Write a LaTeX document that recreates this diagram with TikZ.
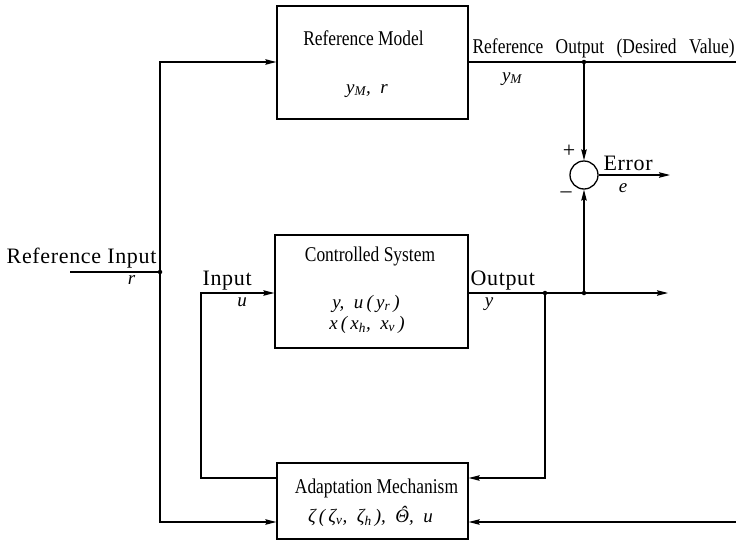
\documentclass[tikz,border=0pt]{standalone}
\usepackage{fontspec}
\setmainfont{Liberation Serif}
\newfontfamily\titlefont[FakeStretch=0.83]{Liberation Serif}
\newfontfamily\labelfont[LetterSpace=3]{Liberation Serif}
\newcommand\sbs[1]{\textsubscript{\itshape #1}}
\newcommand\thetahat{\ooalign{Θ\cr\hidewidth\kern2.5pt\raisebox{0.12em}{ˆ}\hidewidth\cr}}
\usetikzlibrary{arrows.meta}
\begin{document}
\begin{tikzpicture}[x=1pt,y=-1pt,line width=1.2pt,
  box/.style={draw,line width=1.3pt,inner sep=0pt},
  tip/.style={-{Stealth[length=11pt,width=5.5pt,inset=1.5pt]}},
  dot/.style={circle,fill,inner sep=0pt,minimum size=4.5pt},
  title/.style={font=\titlefont\fontsize{21}{25}\selectfont,anchor=base,inner sep=0pt},
  lab/.style={font=\labelfont\fontsize{22}{26}\selectfont,anchor=base,inner sep=0pt},
  mth/.style={font=\itshape\fontsize{19}{23}\selectfont,anchor=base,inner sep=0pt}]
\path[use as bounding box] (0,0) rectangle (736,541);
% blocks
\node[box,minimum width=191pt,minimum height=113pt] (rm) at (372.5,62.5) {};
\node[box,minimum width=193pt,minimum height=113pt] (cs) at (371.5,291.5) {};
\node[box,minimum width=191pt,minimum height=76pt] (am) at (372.5,501) {};
\node[draw,circle,minimum size=28pt,inner sep=0pt,line width=1.3pt] (sum) at (584,175) {};
% coordinates
\coordinate (ri) at (70,272);
\coordinate (rj) at (160,272);
\coordinate (rtop) at (160,62);
\coordinate (rbot) at (160,522);
\coordinate (ymj) at (584,62);
\coordinate (rmend) at (736,62);
\coordinate (yj1) at (545,293);
\coordinate (yj2) at (584,293);
\coordinate (yend) at (668,293);
\coordinate (eend) at (670,175);
\coordinate (uc) at (201,293);
\coordinate (amr) at (545,478);
\coordinate (fbr) at (736,522);
% connectors
\draw (ri) -- (rj);
\draw[tip] (rj) -- (rtop) -- (rm.west |- rtop);
\draw[tip] (rj) -- (rbot) -- (am.west |- rbot);
\draw (rm.east |- rmend) -- (rmend);
\draw[tip] (ymj) -- (sum.north);
\draw[tip] (cs.east |- yj1) -- (yend);
\draw[tip] (yj2) -- (sum.south);
\draw[tip] (sum.east) -- (eend);
\draw[tip] (yj1) -- (amr) -- (am.east |- amr);
\draw[tip] (am.west |- amr) -- (uc |- amr) -- (uc) -- (cs.west |- uc);
\draw[tip] (fbr) -- (am.east |- fbr);
\node[dot] (d1) at (rj) {};
\node[dot] (d2) at (ymj) {};
\node[dot] (d3) at (yj1) {};
\node[dot] (d4) at (yj2) {};
% texts in blocks
\node[title] (rmt) at (363.5,45) {Reference Model};
\node[mth] (rmm) at (367,93) {y\sbs{M},\ \ r};
\node[title] (cst) at (370,261) {Controlled System};
\node[mth] (csm1) at (366,308) {y,\ \ u\,(\,y\sbs{r}\,)};
\node[mth] (csm2) at (367,329) {x\,(\,x\sbs{h},\ \ x\sbs{v}\,)};
\node[title] (amt) at (376.5,493) {Adaptation Mechanism};
\node[mth] (amm) at (370.5,522) {ζ\,(\,ζ\sbs{v},\ \ ζ\sbs{h}\,),\ \ \thetahat,\ \ u};
% outside labels
\node[title,anchor=base west] (rot) at (472,53) {\spaceskip=12.5pt Reference Output (Desired Value)};
\node[mth] (ymm) at (512,81) {y\sbs{M}};
\node[lab,anchor=base east] (rit) at (157,263) {Reference Input};
\node[mth] (rim) at (131.5,284) {r};
\node[lab,anchor=base west] (int) at (202,285) {Input};
\node[mth] (inm) at (242,306) {u};
\node[lab,anchor=base west] (outt) at (470,285) {Output};
\node[mth] (outm) at (489,306) {y};
\node[lab,anchor=base west] (errt) at (603,170) {Error};
\node[mth] (errm) at (623,192) {e};
\node[lab,anchor=center] (plus) at (569,151) {+};
\node[lab,anchor=center] (minus) at (566,195) {–};
\end{tikzpicture}
\end{document}
